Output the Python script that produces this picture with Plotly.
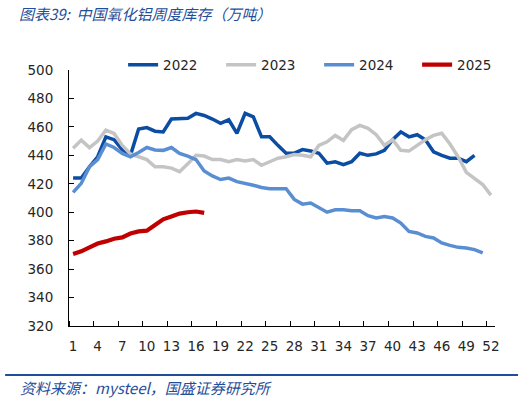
import plotly.graph_objects as go

weeks = list(range(1, 53))

s2022 = [424, 424, 432, 439, 453, 451, 444, 440, 458.5, 459.5,
         457, 456.5, 465.5, 465.5, 466, 469.5, 468, 465.5, 462.5, 465,
         455.5, 469.5, 467, 453, 453, 447, 441.5, 441.5, 444, 443,
         441.5, 434.5, 435.5, 433.5, 435.5, 441.5, 440, 441, 443.5, 451,
         456.5, 453, 454.5, 451, 442.5, 440, 438, 438, 435.5, 440]

s2023 = [445, 450.7, 445.4, 450, 457.8, 455.4, 447, 441, 439, 437,
         432, 432, 431, 428.5, 434, 440, 439.5, 437, 437, 435.5,
         437, 436, 437, 433, 435.5, 438, 439, 440.5, 440, 439,
         447, 449.5, 454, 450.5, 458, 461, 459, 454.5, 447, 451,
         443.5, 443, 447, 451, 454, 455.5, 448, 439, 428, 424,
         419.5, 412]

s2024 = [414, 420.3, 432, 437, 448, 445.5, 441.3, 439, 442, 445.5,
         443.8, 443.5, 445.5, 441.4, 439.5, 437, 429, 425.5, 423, 424,
         421.5, 420.5, 419, 417.4, 416.5, 416.5, 416.5, 409, 405.7, 406.5,
         403, 400, 401.7, 401.7, 401, 401, 397.6, 396, 397, 396,
         392.4, 386.5, 385.4, 383, 381.9, 378.4, 376.7, 375.3, 374.9, 373.7,
         371.4]

s2025 = [370.7, 372.5, 375.3, 378, 379.5, 381.4, 382.3, 385, 386.5, 387,
         391, 395, 397, 399, 400, 400.5, 399.5]

series = [
    ("2022", s2022, "#0B4DA2", 3.5),
    ("2023", s2023, "#C4C4C4", 3.5),
    ("2024", s2024, "#5A8ED2", 3.5),
    ("2025", s2025, "#C00000", 4.2),
]

xtick_vals = list(range(1, 53, 3))
xtick_text = [str(v) for v in xtick_vals]
xbound_vals = [v - 0.5 for v in xtick_vals]
ytick_vals = list(range(320, 501, 20))

fig = go.Figure()
for name, vals, color, w in series:
    fig.add_trace(go.Scatter(
        x=weeks[:len(vals)], y=vals, name=name, mode="lines",
        line=dict(color=color, width=w),
    ))

axis_font = dict(family="DejaVu Sans", size=13.5, color="#262626")

fig.update_layout(
    width=525, height=402,
    margin=dict(l=69, r=30, t=70, b=76, autoexpand=False),
    paper_bgcolor="white", plot_bgcolor="white",
    showlegend=True,
    legend=dict(
        orientation="h", x=0.127, xanchor="left", y=1.02, yanchor="middle",
        font=dict(family="DejaVu Sans", size=13.5, color="#262626"),
        bgcolor="rgba(0,0,0,0)", entrywidth=53, entrywidthmode="pixels",
        itemwidth=30, tracegroupgap=0,
    ),
    xaxis=dict(
        range=[0.5, 52.5], tickmode="array", tickvals=xtick_vals, ticktext=xtick_text,
        ticks="", showgrid=False, zeroline=False,
        showline=True, linecolor="#000000", linewidth=1,
        tickfont=axis_font, ticklabelstandoff=8,
        minor=dict(tickmode="array", tickvals=xbound_vals, ticks="inside",
                   ticklen=5, tickcolor="#000000", showgrid=False),
    ),
    yaxis=dict(
        range=[320, 500], tickmode="array", tickvals=ytick_vals,
        ticks="inside", ticklen=5, tickcolor="#000000",
        showgrid=False, zeroline=False,
        showline=True, linecolor="#000000", linewidth=1,
        tickfont=axis_font, ticklabelstandoff=12,
    ),
    font=dict(family="DejaVu Sans"),
)

fig.add_annotation(
    text="<i>图表39:  中国氧化铝周度库存（万吨）</i>",
    xref="paper", yref="paper", x=-0.122, y=1.222, xanchor="left", yanchor="middle",
    showarrow=False,
    font=dict(family="Noto Sans CJK SC", size=15, color="#1F4E9A"),
)
fig.add_annotation(
    text="<i>资料来源：mysteel，国盛证券研究所</i>",
    xref="paper", yref="paper", x=-0.12, y=-0.242, xanchor="left", yanchor="middle",
    showarrow=False,
    font=dict(family="Noto Sans CJK SC", size=15, color="#1F4E9A"),
)
fig.add_shape(
    type="line", xref="paper", yref="paper", x0=-0.150, x1=1.054, y0=-0.191, y1=-0.191,
    line=dict(color="#1F4E9A", width=2),
)

fig.write_html("out.html", config={"displayModeBar": False},
               post_script="document.body.style.margin='0px';")
